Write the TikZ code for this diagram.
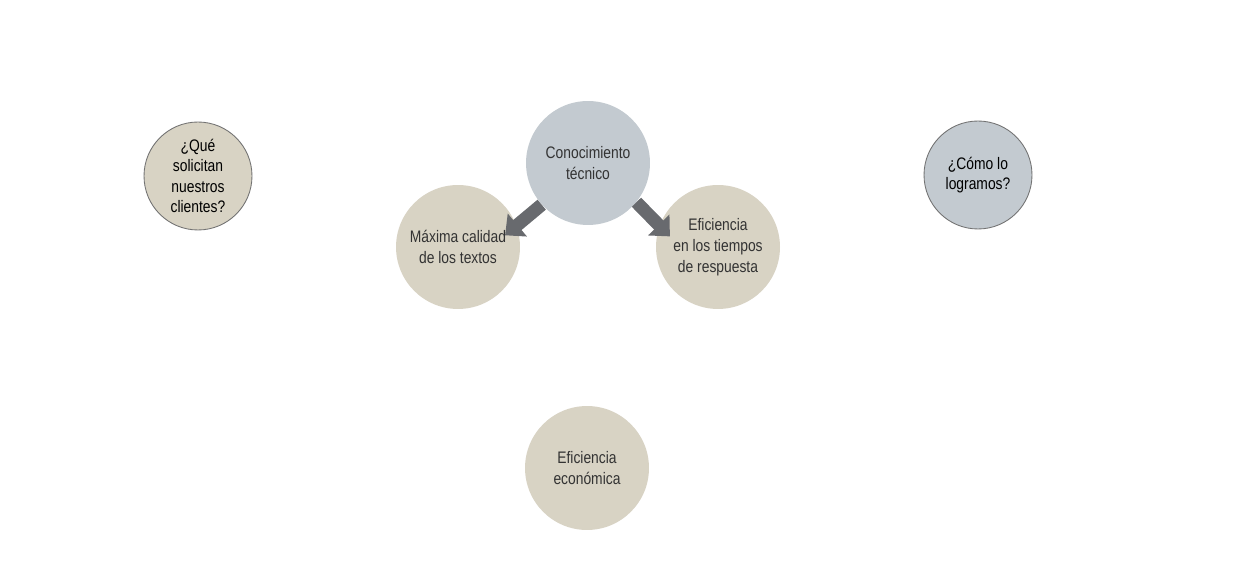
\documentclass[tikz,border=0pt]{standalone}
\usepackage{fontspec}
\setmainfont{Liberation Sans}[FakeStretch=0.83]
\usetikzlibrary{arrows.meta}
\definecolor{beige}{RGB}{216,211,196}
\definecolor{bluegray}{RGB}{195,202,208}
\definecolor{arrowgray}{RGB}{104,106,110}
\tikzset{
  bubble/.style={circle, fill=beige, minimum size=2.48cm, inner sep=0pt, align=center, text=black!80, font=\fontsize{9.5}{11.9}\selectfont},
  askbubble/.style={circle, draw=black!55, line width=0.5pt, minimum size=2.16cm, inner sep=0pt, align=center, font=\fontsize{9.5}{11.6}\selectfont},
  bigarrow/.style={draw=arrowgray, line width=0.26cm, -{Triangle[length=0.32cm, width=0.58cm]}, shorten >=-0.3cm}
}
\begin{document}
\begin{tikzpicture}[x=0.02cm, y=-0.02cm]
\useasboundingbox (0,0) rectangle (1233,570);
\node (que) [askbubble, fill=beige] at (198,176) {¿Qué\\solicitan\\nuestros\\clientes?};
\node (como) [askbubble, fill=bluegray] at (978,175) {¿Cómo lo\\logramos?};
\node (cono) [bubble, fill=bluegray] at (588,163) {Conocimiento\\técnico};
\node (maxima) [bubble] at (458,247) {Máxima calidad\\de los textos};
\node (tiempos) [bubble] at (718,247) {Eficiencia\\en los tiempos\\de respuesta};
\node (economica) [bubble] at (587,468) {Eficiencia\\económica};
\draw [bigarrow] (cono.222) -- (maxima.20);
\draw [bigarrow] (cono.321) -- (tiempos.160);
\end{tikzpicture}
\end{document}
